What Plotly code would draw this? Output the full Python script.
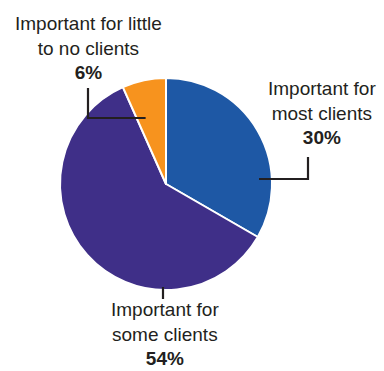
import math
import plotly.graph_objects as go

# Share of respondents per importance level
categories = ["Important for most clients", "Important for some clients",
              "Important for little to no clients"]
shares = [30, 54, 6]
label_lines = [["Important for", "most clients"],
               ["Important for", "some clients"],
               ["Important for little", "to no clients"]]
colors = ["#1E58A5", "#3F2F88", "#F7931E"]

W, H = 384, 371
CX, CY, R = 166, 184, 106  # pie centre and radius in pixels


def px(x):
    return x / W


def py(y):
    return 1 - y / H


fig = go.Figure(go.Pie(
    labels=categories,
    values=shares,
    sort=False,
    direction="clockwise",
    rotation=0,
    textinfo="none",
    hoverinfo="label+percent",
    marker=dict(colors=colors, line=dict(color="white", width=2)),
    domain=dict(x=[px(CX - R), px(CX + R)], y=[py(CY + R), py(CY - R)]),
    showlegend=False,
))

TXT = "#231F20"
FONT = dict(family="Liberation Sans, Arial, sans-serif", size=19, color=TXT)

# label blocks: (text lines, percent, centre x, centre y)
blocks = [
    (label_lines[0], shares[0], 322, 113),
    (label_lines[1], shares[1], 165, 334),
    (label_lines[2], shares[2], 88, 48),
]
for lines, val, x, y in blocks:
    fig.add_annotation(
        x=px(x), y=py(y), xref="paper", yref="paper",
        text="<br>".join(lines) + f"<br><b>{val}%</b>",
        showarrow=False, xanchor="center", yanchor="middle",
        align="center", font=FONT, borderpad=0,
    )

# leader lines
total = sum(shares)
orange_start = 360 * (shares[0] + shares[1]) / total
theta = math.radians(orange_start)
dy = 118 - CY
t = dy / (-math.cos(theta))
orange_edge_x = CX + t * math.sin(theta)

leaders = [
    f"M {px(259)},{py(179)} L {px(308)},{py(179)} L {px(308)},{py(157)}",
    f"M {px(163)},{py(287)} L {px(163)},{py(299)}",
    f"M {px(88)},{py(88)} L {px(88)},{py(118)} L {px(orange_edge_x + 9)},{py(118)}",
]
for p in leaders:
    fig.add_shape(type="path", path=p, xref="paper", yref="paper",
                  line=dict(color=TXT, width=2.2))

fig.update_layout(
    width=W, height=H,
    margin=dict(l=0, r=0, t=0, b=0),
    paper_bgcolor="white", plot_bgcolor="white",
)

fig.write_html("out.html")
